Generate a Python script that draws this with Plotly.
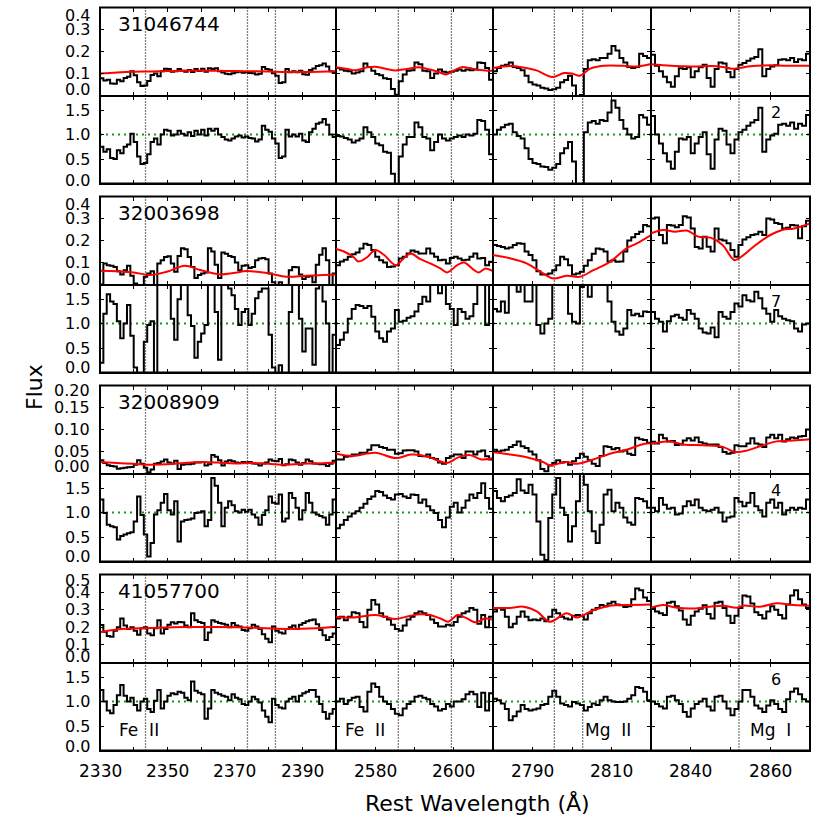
import numpy as np
import plotly.graph_objects as go

# ---------------- data ----------------
OBJECT_IDS = ["31046744", "32003698", "32008909", "41057700"]
SN_LABELS = ["2", "7", "4", "6"]
WAVE_RANGES = [(2330, 2400), (2570, 2610), (2780, 2820), (2830, 2870)]
WAVE_TICK_LABELS = [[2330, 2350, 2370, 2390], [2580, 2600], [2790, 2810], [2840, 2860]]
LINE_WAVES = [[2343.50, 2373.74, 2382.04], [2585.88, 2599.40], [2795.53, 2802.70], [2852.13]]
LINE_NAMES = ["Fe II", "Fe II", "Mg II", "Mg I"]
FLUX_TICKS = [[0.0, 0.1, 0.2, 0.3, 0.4], [0.0, 0.1, 0.2, 0.3, 0.4],
              [0.00, 0.05, 0.10, 0.15, 0.20], [0.0, 0.1, 0.2, 0.3, 0.4, 0.5]]
FLUX_DECIMALS = [1, 1, 2, 1]
NORM_TICKS = [0.0, 0.5, 1.0, 1.5]
NORM_MAX = 1.8
BIN_WIDTH = 1.0

# ---- object 1: 31046744 ----
FLUX1_C1 = [0.078,0.068,0.072,0.055,0.053,0.072,0.065,0.080,0.085,0.110,
            0.092,0.060,0.043,0.045,0.066,0.093,0.100,0.088,0.110,0.122,
            0.120,0.108,0.110,0.120,0.113,0.108,0.116,0.107,0.120,0.111,
            0.122,0.108,0.124,0.120,0.124,0.110,0.105,0.099,0.097,0.101,
            0.106,0.108,0.103,0.106,0.102,0.101,0.095,0.099,0.130,0.121,
            0.117,0.101,0.090,0.057,0.060,0.121,0.106,0.110,0.106,0.112,
            0.097,0.094,0.116,0.123,0.134,0.138,0.145,0.132,0.110,0.105]
NORM1_C1 = [0.75,0.65,0.70,0.52,0.50,0.68,0.62,0.75,0.80,1.02,
            0.85,0.55,0.40,0.42,0.60,0.85,0.92,0.80,1.00,1.10,
            1.08,0.98,1.00,1.08,1.02,0.98,1.05,0.97,1.08,1.00,
            1.10,0.98,1.12,1.08,1.12,1.00,0.95,0.90,0.88,0.92,
            0.96,0.98,0.94,0.96,0.93,0.92,0.86,0.90,1.18,1.10,
            1.06,0.92,0.82,0.52,0.55,1.10,0.96,1.00,0.96,1.02,
            0.88,0.85,1.05,1.12,1.22,1.25,1.32,1.20,1.00,0.95]
FLUX1_C2 = [0.125,0.118,0.112,0.110,0.100,0.105,0.110,0.145,0.130,0.112,
            0.098,0.092,0.078,0.075,0.030,0.003,0.065,0.095,0.112,0.115,
            0.150,0.142,0.112,0.110,0.080,0.100,0.118,0.108,0.104,0.108,
            0.112,0.118,0.112,0.118,0.115,0.118,0.150,0.148,0.125,0.072]
NORM1_C2 = [0.97,0.96,0.93,0.90,0.84,0.88,0.92,1.15,1.05,0.95,
            0.82,0.78,0.65,0.63,0.20,-0.05,0.55,0.80,0.95,0.95,
            1.25,1.15,0.95,0.92,0.68,0.85,1.00,0.92,0.88,0.92,
            0.95,0.98,0.95,1.00,0.98,1.02,1.30,1.28,1.10,0.60]
FLUX1_C3 = [0.110,0.125,0.135,0.140,0.150,0.130,0.125,0.115,0.090,0.060,
            0.050,0.045,0.035,0.032,0.025,0.028,0.035,0.060,0.070,0.090,
            0.045,-0.005,0.002,0.120,0.160,0.165,0.160,0.170,0.170,0.190,
            0.225,0.205,0.170,0.150,0.130,0.125,0.130,0.190,0.180,0.170]
NORM1_C3 = [1.00,1.10,1.15,1.20,1.22,1.05,0.97,0.92,0.72,0.50,
            0.42,0.40,0.35,0.34,0.28,0.32,0.40,0.62,0.72,0.85,
            0.45,-0.05,-0.05,1.05,1.25,1.28,1.22,1.30,1.28,1.45,
            1.70,1.55,1.30,1.12,1.00,0.92,0.95,1.40,1.35,1.20]
FLUX1_C4 = [0.185,0.135,0.110,0.085,0.060,0.040,0.088,0.124,0.120,0.128,
            0.083,0.110,0.128,0.140,0.080,0.040,0.120,0.150,0.145,0.107,
            0.083,0.120,0.140,0.148,0.158,0.168,0.175,0.210,0.087,0.120,
            0.132,0.137,0.162,0.165,0.160,0.170,0.152,0.165,0.160,0.190]
NORM1_C4 = [1.38,1.00,0.82,0.62,0.45,0.30,0.65,0.92,0.90,0.95,
            0.62,0.82,0.95,1.05,0.60,0.30,0.90,1.12,1.08,0.80,
            0.62,0.90,1.05,1.10,1.18,1.25,1.30,1.55,0.65,0.90,
            0.98,1.02,1.20,1.22,1.18,1.25,1.12,1.22,1.18,1.40]
CONT1_C1_W = [2330,2335,2340,2345,2350,2355,2360,2365,2370,2375,2380,2385,2390,2395,2400]
CONT1_C1_V = [0.100,0.105,0.108,0.109,0.111,0.113,0.113,0.112,0.111,0.110,0.109,0.107,0.107,0.108,0.110]
CONT1_C2_W = [2570,2573,2575,2578,2580,2582,2585,2588,2591,2593,2596,2598,2600,2602,2604,2606,2608,2610]
CONT1_C2_V = [0.128,0.120,0.115,0.128,0.131,0.124,0.114,0.120,0.128,0.122,0.108,0.096,0.113,0.129,0.125,0.117,0.114,0.112]
CONT1_C3_W = [2780,2782.6,2785,2788,2791,2795,2798,2800,2802,2804.6,2808,2813,2816.4,2820]
CONT1_C3_V = [0.125,0.132,0.134,0.126,0.114,0.084,0.102,0.100,0.090,0.122,0.135,0.135,0.132,0.143]
CONT1_C4_W = [2830,2835,2838,2841,2845,2848,2850.3,2852.4,2855,2860,2864,2870]
CONT1_C4_V = [0.142,0.135,0.133,0.132,0.134,0.130,0.122,0.126,0.133,0.137,0.135,0.135]

# ---- object 2: 32003698 ----
FLUX2_C1 = [0.000,0.095,0.088,0.085,0.080,0.060,0.045,0.065,0.085,0.040,
            0.005,-0.005,-0.005,0.035,0.050,0.060,-0.005,0.095,0.110,0.125,
            0.128,0.095,0.058,0.130,0.165,0.160,0.125,0.080,0.030,0.043,
            0.050,0.055,0.165,0.150,0.090,0.030,0.145,0.140,0.130,0.125,
            0.100,0.065,0.085,0.088,0.075,0.080,0.110,0.118,0.120,0.115,
            0.050,0.010,-0.005,0.010,-0.005,-0.005,0.065,0.080,0.078,0.045,
            0.025,0.035,0.038,0.010,0.090,0.135,0.165,0.110,-0.005,0.050]
NORM2_C1 = [0.20,1.20,1.60,1.45,1.40,1.05,0.70,1.00,1.38,0.75,
            0.10,-0.10,-0.10,0.63,0.97,1.05,-0.10,2.00,2.00,2.00,
            2.00,1.10,0.67,1.50,2.00,2.00,1.17,0.95,0.30,0.63,
            0.80,0.97,2.00,2.00,1.24,0.26,2.00,2.00,1.72,1.58,
            1.30,0.97,1.24,1.30,0.97,1.20,1.52,1.65,1.72,1.72,
            0.77,0.10,-0.10,0.15,-0.10,-0.10,1.24,2.00,2.00,1.10,
            0.43,0.90,0.90,0.16,1.72,2.00,1.45,1.00,-0.10,0.77]
FLUX2_C2 = [0.088,0.105,0.112,0.126,0.138,0.145,0.164,0.185,0.180,0.157,
            0.126,0.110,0.100,0.080,0.082,0.088,0.118,0.126,0.141,0.155,
            0.149,0.141,0.141,0.164,0.141,0.126,0.110,0.112,0.096,0.120,
            0.126,0.118,0.110,0.112,0.126,0.141,0.118,0.120,0.088,0.103]
NORM2_C2 = [0.56,0.67,0.82,1.10,1.30,1.38,1.36,1.32,1.36,1.14,
            0.84,0.70,0.63,0.84,0.90,1.28,1.04,1.06,1.12,1.15,
            1.25,1.40,1.55,1.45,2.00,1.85,1.62,2.00,1.40,1.30,
            0.97,1.30,1.24,1.10,1.15,1.40,2.00,2.00,0.97,2.00]
FLUX2_C3 = [0.180,0.175,0.170,0.164,0.168,0.180,0.187,0.185,0.150,0.134,
            0.110,0.060,0.046,0.045,0.050,0.065,0.088,0.126,0.115,0.088,
            0.045,0.050,0.058,0.085,0.110,0.140,0.164,0.160,0.150,0.105,
            0.110,0.103,0.105,0.150,0.200,0.215,0.230,0.240,0.270,0.265]
NORM2_C3 = [1.30,1.25,1.45,1.22,2.00,2.00,1.65,2.00,1.45,1.45,
            2.00,0.97,0.80,1.00,1.10,2.00,2.00,2.00,2.00,1.20,
            1.04,1.00,1.75,2.00,1.55,2.00,2.00,2.00,1.85,1.45,
            1.04,0.84,0.77,0.90,1.28,1.17,1.20,1.15,1.25,1.24]
FLUX2_C4 = [0.300,0.305,0.225,0.187,0.270,0.268,0.260,0.270,0.310,0.305,
            0.255,0.170,0.164,0.217,0.172,0.150,0.255,0.205,0.200,0.187,
            0.157,0.126,0.180,0.205,0.215,0.225,0.228,0.240,0.225,0.300,
            0.295,0.280,0.275,0.255,0.258,0.270,0.268,0.210,0.265,0.290]
NORM2_C4 = [1.24,1.10,1.04,0.84,1.05,1.15,1.18,1.12,1.08,1.28,
            1.20,1.10,0.90,0.82,0.80,0.92,0.72,1.24,1.14,1.10,
            1.24,1.41,1.35,1.58,1.48,1.45,1.65,1.52,1.31,1.20,
            1.04,1.28,1.15,1.10,1.07,1.05,0.90,0.84,0.98,1.00]
CONT2_C1_W = [2330,2335,2340,2344.8,2349.8,2355.2,2359.7,2365.6,2369.6,2373.5,2379.5,2385.4,2391.3,2400]
CONT2_C1_V = [0.062,0.060,0.055,0.043,0.058,0.085,0.066,0.046,0.052,0.061,0.052,0.035,0.040,0.046]
CONT2_C2_W = [2570,2572,2574.4,2575.7,2578,2580,2582.2,2585.2,2587.3,2589,2591.5,2594,2596.6,2598.3,2600.9,2602.6,2605.2,2606.4,2608.1,2610]
CONT2_C2_V = [0.161,0.150,0.126,0.105,0.125,0.157,0.135,0.088,0.120,0.141,0.115,0.096,0.073,0.055,0.088,0.100,0.065,0.055,0.073,0.061]
CONT2_C3_W = [2780,2784.3,2788.5,2792.7,2795.3,2798.6,2802,2805.4,2809.6,2813.8,2816.4,2820]
CONT2_C3_V = [0.134,0.119,0.096,0.050,0.027,0.040,0.035,0.065,0.103,0.164,0.187,0.225]
CONT2_C4_W = [2830,2833,2836,2839,2842,2845,2848,2851,2853,2856,2860,2863,2866,2870]
CONT2_C4_V = [0.233,0.248,0.240,0.245,0.217,0.213,0.180,0.111,0.130,0.175,0.225,0.248,0.255,0.278]

# ---- object 3: 32008909 ----
FLUX3_C1 = [0.030,0.024,0.019,0.017,0.016,0.011,0.012,0.013,0.014,0.015,
            0.020,0.030,0.022,0.013,0.003,0.009,0.022,0.024,0.027,0.032,
            0.025,0.023,0.029,0.010,0.020,0.021,0.021,0.022,0.025,0.025,
            0.026,0.018,0.021,0.042,0.038,0.030,0.018,0.027,0.030,0.028,
            0.025,0.024,0.026,0.025,0.026,0.023,0.022,0.018,0.023,0.025,
            0.032,0.029,0.028,0.033,0.019,0.021,0.032,0.030,0.025,0.020,
            0.024,0.032,0.028,0.023,0.022,0.021,0.021,0.017,0.022,0.029]
NORM3_C1 = [1.27,0.99,0.75,0.72,0.70,0.45,0.52,0.55,0.58,0.60,
            0.82,1.33,0.95,0.55,0.10,0.38,0.96,1.05,1.20,1.38,
            1.05,0.96,1.23,0.41,0.82,0.85,0.86,0.88,0.99,1.00,
            1.03,0.72,0.85,1.71,1.55,1.20,0.72,1.10,1.23,1.15,
            1.03,1.00,1.06,1.02,1.06,0.96,0.90,0.75,0.95,1.05,
            1.33,1.20,1.18,1.37,0.82,0.88,1.40,1.30,1.10,0.86,
            1.05,1.40,1.20,1.00,0.96,0.93,0.90,0.75,0.96,1.27]
FLUX3_C2 = [0.032,0.032,0.038,0.039,0.043,0.043,0.047,0.047,0.054,0.064,
            0.064,0.060,0.058,0.054,0.054,0.045,0.046,0.052,0.053,0.053,
            0.050,0.040,0.039,0.043,0.035,0.033,0.025,0.022,0.035,0.039,
            0.043,0.043,0.035,0.050,0.050,0.043,0.050,0.052,0.039,0.032]
NORM3_C2 = [0.68,0.75,0.85,0.92,0.98,1.03,1.10,1.18,1.28,1.33,
            1.44,1.42,1.35,1.30,1.27,1.37,1.38,1.33,1.30,1.37,
            1.36,1.20,1.27,1.13,1.05,0.99,0.85,0.70,0.90,1.12,
            1.20,1.00,1.10,1.25,1.37,1.30,1.40,1.60,1.30,1.08]
FLUX3_C3 = [0.054,0.050,0.052,0.054,0.060,0.065,0.073,0.062,0.058,0.050,
            0.043,0.030,0.010,0.005,0.018,0.024,0.030,0.025,0.026,0.020,
            0.028,0.035,0.045,0.038,0.030,0.022,0.017,0.040,0.062,0.060,
            0.055,0.058,0.050,0.052,0.045,0.042,0.081,0.078,0.076,0.070]
NORM3_C3 = [1.44,1.30,1.23,1.32,1.35,1.40,1.68,1.45,1.40,1.57,
            1.37,0.82,0.14,0.03,0.89,1.37,1.71,1.10,0.95,0.41,
            0.72,1.23,1.80,1.57,1.03,0.62,0.38,0.75,1.37,1.47,
            1.03,1.20,1.10,0.90,0.80,0.75,1.30,1.28,1.23,1.10]
FLUX3_C4 = [0.072,0.068,0.088,0.080,0.073,0.074,0.065,0.066,0.075,0.080,
            0.075,0.082,0.071,0.068,0.066,0.066,0.066,0.060,0.049,0.045,
            0.047,0.064,0.062,0.062,0.068,0.080,0.068,0.066,0.060,0.082,
            0.088,0.080,0.088,0.073,0.078,0.082,0.080,0.084,0.085,0.100]
NORM3_C4 = [1.10,1.03,1.30,1.16,1.08,1.10,0.96,0.98,1.13,1.23,
            1.15,1.27,1.10,1.05,1.03,1.06,1.10,1.00,0.82,0.90,
            0.92,1.30,1.22,1.13,1.20,1.40,1.13,1.05,0.92,1.20,
            1.27,1.10,1.20,0.96,1.05,1.10,1.06,1.10,1.08,1.27]
CONT3_C1_W = [2330,2335,2340,2345,2350,2355,2360,2365,2370,2375,2380,2385,2390,2395,2400]
CONT3_C1_V = [0.026,0.024,0.022,0.020,0.021,0.024,0.026,0.025,0.023,0.024,0.022,0.020,0.022,0.023,0.025]
CONT3_C2_W = [2570,2574.4,2580,2585.2,2589,2591.5,2594,2598.3,2601,2604,2607,2610]
CONT3_C2_V = [0.045,0.040,0.047,0.035,0.043,0.042,0.036,0.024,0.036,0.042,0.032,0.035]
CONT3_C3_W = [2780,2784.3,2788.5,2792.7,2794.4,2798.6,2801.2,2805.4,2809.6,2813.8,2818.1,2820]
CONT3_C3_V = [0.049,0.043,0.037,0.026,0.019,0.026,0.022,0.032,0.045,0.054,0.067,0.069]
CONT3_C4_W = [2830,2834.8,2838.1,2843.2,2848.2,2851.1,2854.1,2857.4,2861.6,2865.8,2870]
CONT3_C4_V = [0.067,0.073,0.066,0.064,0.060,0.049,0.052,0.062,0.073,0.075,0.078]

# ---- object 4: 41057700 ----
FLUX4_C1 = [0.213,0.175,0.150,0.147,0.180,0.200,0.250,0.210,0.190,0.200,
            0.180,0.157,0.195,0.200,0.165,0.155,0.195,0.240,0.165,0.190,
            0.215,0.228,0.222,0.230,0.228,0.210,0.200,0.280,0.240,0.230,
            0.225,0.128,0.170,0.240,0.232,0.225,0.220,0.215,0.200,0.225,
            0.210,0.205,0.185,0.180,0.195,0.215,0.205,0.190,0.160,0.135,
            0.115,0.205,0.180,0.170,0.165,0.190,0.200,0.210,0.190,0.215,
            0.225,0.235,0.240,0.245,0.218,0.185,0.155,0.128,0.145,0.165]
NORM4_C1 = [1.24,1.00,0.82,0.76,0.93,1.13,1.34,1.12,1.00,1.08,
            0.93,0.82,1.00,1.06,0.85,0.79,1.02,1.24,0.86,1.00,
            1.12,1.17,1.15,1.20,1.18,1.08,1.03,1.41,1.22,1.18,
            1.15,0.65,0.86,1.24,1.18,1.15,1.12,1.10,1.03,1.15,
            1.08,1.05,0.95,0.93,1.00,1.10,1.05,0.98,0.82,0.69,
            0.58,1.06,0.93,0.88,0.86,1.00,1.06,1.10,1.00,1.12,
            1.17,1.20,1.24,1.24,1.10,0.95,0.79,0.65,0.75,0.85]
FLUX4_C2 = [0.250,0.260,0.240,0.260,0.285,0.280,0.230,0.200,0.300,0.355,
            0.330,0.280,0.260,0.245,0.215,0.190,0.180,0.210,0.245,0.260,
            0.280,0.290,0.280,0.270,0.245,0.225,0.205,0.205,0.215,0.210,
            0.230,0.260,0.280,0.290,0.310,0.300,0.220,0.270,0.200,0.260]
NORM4_C2 = [1.00,1.06,0.95,1.03,1.08,1.10,0.89,0.80,1.20,1.37,
            1.30,1.10,1.00,0.95,0.85,0.75,0.72,0.86,0.95,1.00,
            1.10,1.12,1.08,1.05,0.95,0.90,0.82,0.85,0.95,0.90,
            1.00,1.00,1.05,1.15,1.20,1.15,0.89,1.18,0.82,1.17]
FLUX4_C3 = [0.290,0.310,0.300,0.260,0.200,0.220,0.260,0.290,0.260,0.240,
            0.245,0.240,0.250,0.235,0.260,0.300,0.280,0.260,0.250,0.245,
            0.265,0.270,0.265,0.245,0.280,0.300,0.310,0.326,0.320,0.335,
            0.345,0.330,0.325,0.315,0.320,0.360,0.420,0.410,0.370,0.350]
NORM4_C3 = [1.06,1.03,0.96,0.85,0.62,0.70,0.80,0.93,0.85,0.82,
            0.84,0.86,0.93,0.95,1.10,1.22,1.10,0.96,0.93,0.90,
            0.99,0.96,0.93,0.82,0.89,0.96,0.93,1.03,1.10,1.03,
            1.00,0.99,0.99,1.00,1.06,1.13,1.30,1.28,1.20,1.03]
FLUX4_C4 = [0.310,0.290,0.280,0.270,0.340,0.345,0.320,0.295,0.245,0.215,
            0.265,0.290,0.305,0.325,0.275,0.250,0.340,0.345,0.310,0.265,
            0.225,0.265,0.310,0.380,0.375,0.335,0.285,0.270,0.250,0.290,
            0.320,0.300,0.270,0.250,0.330,0.380,0.410,0.360,0.330,0.310]
NORM4_C4 = [1.00,0.95,0.90,0.86,1.10,1.12,1.03,0.95,0.79,0.69,
            0.86,0.95,1.00,1.06,0.90,0.82,1.10,1.12,1.00,0.86,
            0.72,0.85,1.00,1.24,1.24,1.10,0.92,0.86,0.79,0.92,
            1.03,0.95,0.85,0.79,1.05,1.20,1.27,1.15,1.05,1.00]
CONT4_C1_W = [2330,2335,2345,2355,2365,2375,2385,2394,2400]
CONT4_C1_V = [0.172,0.188,0.196,0.202,0.201,0.198,0.191,0.195,0.203]
CONT4_C2_W = [2570,2573.6,2578,2580,2582.5,2585,2589,2591.5,2594,2596.6,2598.6,2601,2603,2605.6,2608,2610]
CONT4_C2_V = [0.260,0.255,0.266,0.270,0.260,0.247,0.266,0.274,0.270,0.250,0.232,0.270,0.255,0.228,0.250,0.242]
CONT4_C3_W = [2780,2784.3,2787.7,2791.1,2794.4,2798.6,2801.2,2805.4,2809.6,2813.8,2820]
CONT4_C3_V = [0.310,0.310,0.317,0.290,0.232,0.280,0.255,0.297,0.323,0.327,0.330]
CONT4_C4_W = [2830,2833.1,2836.5,2840.6,2844.8,2848.2,2851.5,2853.2,2857.4,2861.6,2865.8,2870]
CONT4_C4_V = [0.311,0.326,0.311,0.307,0.317,0.323,0.311,0.323,0.317,0.336,0.326,0.323]

FLUX = [[FLUX1_C1, FLUX1_C2, FLUX1_C3, FLUX1_C4], [FLUX2_C1, FLUX2_C2, FLUX2_C3, FLUX2_C4],
        [FLUX3_C1, FLUX3_C2, FLUX3_C3, FLUX3_C4], [FLUX4_C1, FLUX4_C2, FLUX4_C3, FLUX4_C4]]
NORM = [[NORM1_C1, NORM1_C2, NORM1_C3, NORM1_C4], [NORM2_C1, NORM2_C2, NORM2_C3, NORM2_C4],
        [NORM3_C1, NORM3_C2, NORM3_C3, NORM3_C4], [NORM4_C1, NORM4_C2, NORM4_C3, NORM4_C4]]
CONT = [[(CONT1_C1_W, CONT1_C1_V), (CONT1_C2_W, CONT1_C2_V), (CONT1_C3_W, CONT1_C3_V), (CONT1_C4_W, CONT1_C4_V)],
        [(CONT2_C1_W, CONT2_C1_V), (CONT2_C2_W, CONT2_C2_V), (CONT2_C3_W, CONT2_C3_V), (CONT2_C4_W, CONT2_C4_V)],
        [(CONT3_C1_W, CONT3_C1_V), (CONT3_C2_W, CONT3_C2_V), (CONT3_C3_W, CONT3_C3_V), (CONT3_C4_W, CONT3_C4_V)],
        [(CONT4_C1_W, CONT4_C1_V), (CONT4_C2_W, CONT4_C2_V), (CONT4_C3_W, CONT4_C3_V), (CONT4_C4_W, CONT4_C4_V)]]

# ---------------- layout (pixels) ----------------
W = H = 830
COL_PX = [(100, 336), (336, 493), (493, 651), (651, 810)]
BLOCK_TOP = [7.5, 196.5, 385.5, 574.5]
PH = 88
TICK_FONT = dict(family="DejaVu Sans", size=16, color="black")
XTICK_FONT = dict(family="DejaVu Sans", size=17, color="black")
TOP_SHIFT = [8, 8, 5, 6]
BOT_SHIFT_UP = [6, 5, 7, 6]
BOT_SHIFT_LO = [3, 5, 5, 4]


def fx(px):
    return px / W


def fy(py):
    return 1 - py / H


def ax_id(n):
    return "" if n == 1 else str(n)


fig = go.Figure()
layout = {}
shapes = []
annotations = []

for b in range(4):
    for p in range(2):
        top = BLOCK_TOP[b] + p * PH
        ydom = [fy(top + PH), fy(top)]
        ymax = FLUX_TICKS[b][-1] if p == 0 else NORM_MAX
        ytv = FLUX_TICKS[b] if p == 0 else NORM_TICKS
        for c in range(4):
            n = b * 8 + p * 4 + c + 1
            lo, hi = WAVE_RANGES[c]
            layout["xaxis" + ax_id(n)] = dict(
                domain=[fx(COL_PX[c][0]), fx(COL_PX[c][1])], range=[lo, hi],
                anchor="y" + ax_id(n), showline=True, linecolor="black", linewidth=1,
                mirror="ticks", ticks="inside", ticklen=4, tickwidth=1.2, tickcolor="black",
                tickmode="linear", tick0=lo, dtick=10, showticklabels=False,
                showgrid=False, zeroline=False, fixedrange=True)
            layout["yaxis" + ax_id(n)] = dict(
                domain=ydom, range=[0, ymax], anchor="x" + ax_id(n),
                showline=True, linecolor="black", linewidth=1, mirror="ticks",
                ticks="inside", ticklen=4, tickwidth=1.2, tickcolor="black",
                tickmode="array", tickvals=ytv, showticklabels=False,
                showgrid=False, zeroline=False, fixedrange=True)
            xr, yr = "x" + ax_id(n), "y" + ax_id(n)
            edges = np.arange(lo, hi + BIN_WIDTH / 2, BIN_WIDTH)
            vals = FLUX[b][c] if p == 0 else NORM[b][c]
            assert len(vals) == len(edges) - 1
            fig.add_trace(go.Scatter(
                x=edges, y=list(vals) + [vals[-1]], mode="lines",
                line=dict(shape="hv", color="black", width=2),
                xaxis=xr, yaxis=yr, showlegend=False, hoverinfo="skip"))
            if p == 0:
                cw, cv = CONT[b][c]
                fig.add_trace(go.Scatter(
                    x=cw, y=cv, mode="lines",
                    line=dict(shape="spline", smoothing=1.0, color="red", width=2),
                    xaxis=xr, yaxis=yr, showlegend=False, hoverinfo="skip"))
            else:
                shapes.append(dict(type="line", xref=xr + " domain", x0=0, x1=1,
                                   yref=yr, y0=1.0, y1=1.0, layer="below",
                                   line=dict(color="#139a13", width=2, dash="2px,4px")))
            for lw in LINE_WAVES[c]:
                shapes.append(dict(type="line", xref=xr, x0=lw, x1=lw,
                                   yref=yr + " domain", y0=0, y1=1, layer="below",
                                   line=dict(color="black", width=1.3, dash="1px,2px")))
        # y tick labels for this panel
        n0 = b * 8 + p * 4 + 1
        for v in ytv:
            if p == 0:
                txt = f"{v:.{FLUX_DECIMALS[b]}f}"
            else:
                txt = f"{v:.1f}"
            shift = 0
            if v == ymax:
                shift = -TOP_SHIFT[b]
            elif v == 0:
                shift = BOT_SHIFT_UP[b] if p == 0 else BOT_SHIFT_LO[b]
            annotations.append(dict(text=txt, xref="paper", x=fx(92), xanchor="right",
                                    yref="y" + ax_id(n0), y=v, yanchor="middle", yshift=shift,
                                    showarrow=False, font=TICK_FONT))
    # outer frame of the block
    shapes.append(dict(type="rect", xref="paper", yref="paper",
                       x0=fx(COL_PX[0][0]), x1=fx(COL_PX[-1][1]),
                       y0=fy(BLOCK_TOP[b] + 2 * PH), y1=fy(BLOCK_TOP[b]),
                       line=dict(color="black", width=2), fillcolor="rgba(0,0,0,0)", layer="above"))
    # object id and S/N label
    annotations.append(dict(text=OBJECT_IDS[b], xref="paper", x=fx(116), xanchor="left",
                            yref="paper", y=fy(BLOCK_TOP[b] + 16), yanchor="middle",
                            showarrow=False, font=dict(family="DejaVu Sans", size=20, color="black")))
    annotations.append(dict(text=SN_LABELS[b], xref="paper", x=fx(775.5), xanchor="center",
                            yref="paper", y=fy(BLOCK_TOP[b] + PH + 17), yanchor="middle",
                            showarrow=False, font=dict(family="DejaVu Sans", size=16, color="black")))

# x tick labels on the bottom row
for c in range(4):
    n = 3 * 8 + 4 + c + 1
    for v in WAVE_TICK_LABELS[c]:
        annotations.append(dict(text=str(v), xref="x" + ax_id(n), x=v, xanchor="center",
                                yref="paper", y=fy(771), yanchor="middle",
                                showarrow=False, font=XTICK_FONT))

# line identifications in the bottom row
LINE_POS = [(117, "left"), (343, "left"), (633, "right"), (793, "right")]
for c in range(4):
    annotations.append(dict(text=LINE_NAMES[c].replace(" ", "\u00a0\u00a0"), xref="paper",
                            x=fx(LINE_POS[c][0]), xanchor=LINE_POS[c][1],
                            yref="paper", y=fy(730), yanchor="middle", showarrow=False,
                            font=dict(family="DejaVu Sans", size=17, color="black")))

annotations.append(dict(text="Rest Wavelength (Å)", xref="paper", x=fx(477), xanchor="center",
                        yref="paper", y=fy(803), yanchor="middle", showarrow=False,
                        font=dict(family="DejaVu Sans", size=22, color="black")))
annotations.append(dict(text="Flux", xref="paper", x=fx(34), xanchor="center",
                        yref="paper", y=fy(387), yanchor="middle", textangle=-90,
                        showarrow=False, font=dict(family="DejaVu Sans", size=22, color="black")))

fig.update_layout(
    width=W, height=H, margin=dict(l=0, r=0, t=0, b=0),
    paper_bgcolor="white", plot_bgcolor="rgba(0,0,0,0)",
    shapes=shapes, annotations=annotations, showlegend=False,
    **layout)

fig.write_html("out.html", config={"displayModeBar": False},
               post_script="document.body.style.margin='0';document.body.style.overflow='hidden';")
